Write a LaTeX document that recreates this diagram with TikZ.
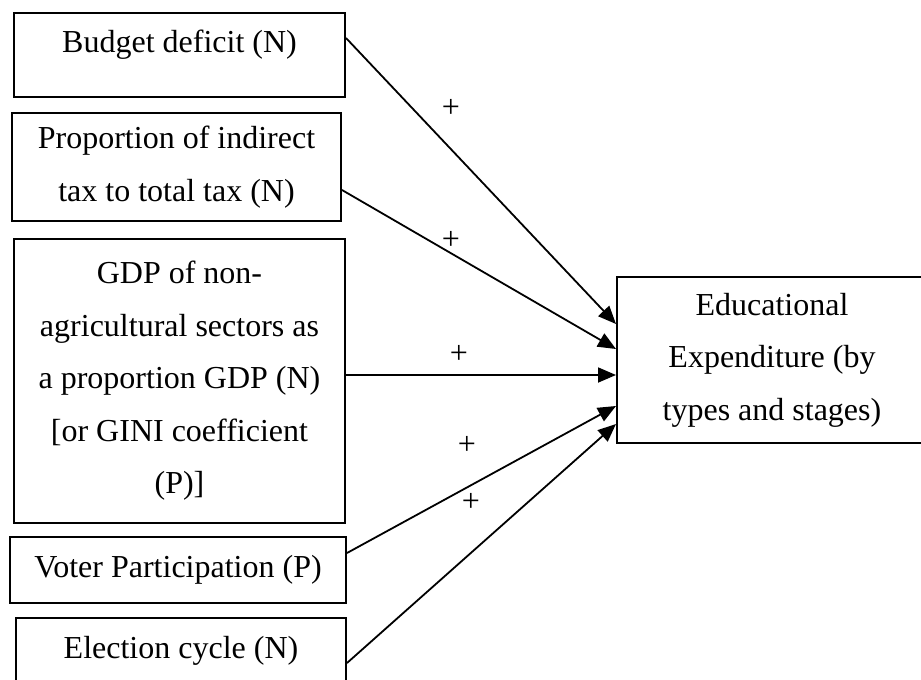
\documentclass[tikz,border=0pt]{standalone}
\usepackage{fontspec}
\setmainfont{Liberation Serif}
\usetikzlibrary{arrows.meta}

\begin{document}
\begin{tikzpicture}[x=0.5pt, y=-0.5pt]
\tikzstyle{box}=[rectangle, draw=black, line width=1pt, align=center, anchor=north west, inner sep=2pt, font=\fontsize{16pt}{26.25pt}\selectfont]
\tikzstyle{topbox}=[box, text height=12pt, text depth=14pt]
\tikzstyle{connect}=[-{Triangle[length=9pt, width=7.5pt]}, line width=0.9pt]
\tikzstyle{sign}=[inner sep=0pt, font=\fontsize{16pt}{19pt}\selectfont]
  \useasboundingbox (0,0) rectangle (921,680);
  \clip (0,0) rectangle (921,680);
  \node[topbox, minimum width=165.5pt, minimum height=42pt] (budget) at (13,12) {Budget deficit (N)};
  \node[box, minimum width=164.5pt, minimum height=54pt] (indirect) at (11,112) {Proportion of indirect\\tax to total tax (N)};
  \node[box, minimum width=165.5pt, minimum height=142pt] (gdp) at (13,238) {GDP of non-\\agricultural sectors as\\a proportion GDP (N)\\{[}or GINI coefficient\\(P)]};
  \node[box, minimum width=168pt, minimum height=33pt] (voter) at (9,536) {Voter Participation (P)};
  \node[topbox, minimum width=165pt, minimum height=42pt] (cycle) at (15,617) {Election cycle (N)};
  \node[box, minimum width=155pt, minimum height=83pt] (edu) at (616,276) {Educational\\Expenditure (by\\types and stages)};
  \path ([yshift=8.5pt]budget.east) edge [connect] ([yshift=18pt]edu.west)
        ([yshift=-11.5pt]indirect.east) edge [connect] ([yshift=5.5pt]edu.west)
        ([yshift=3pt]gdp.east) edge [connect] ([yshift=-7.5pt]edu.west)
        ([yshift=8.5pt]voter.east) edge [connect] ([yshift=-23pt]edu.west)
        ([yshift=-1.5pt]cycle.east) edge [connect] ([yshift=-32pt]edu.west);
  %signs on the links
  \node[sign] (s1) at (451,108) {+};
  \node[sign] (s2) at (451,240) {+};
  \node[sign] (s3) at (459,354) {+};
  \node[sign] (s4) at (467,445) {+};
  \node[sign] (s5) at (471,502) {+};
\end{tikzpicture}
\end{document}
